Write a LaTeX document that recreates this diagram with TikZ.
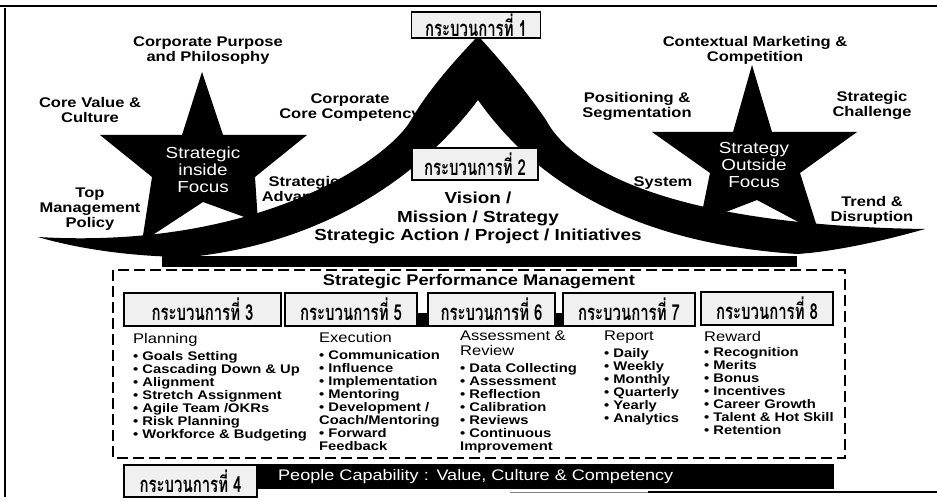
\documentclass[tikz,border=0pt]{standalone}
\usepackage{fontspec}
\setmainfont[FakeStretch=1.18]{Liberation Sans}
\newfontfamily\thaifont[Script=Thai,FakeStretch=0.68]{Loma}
\usepackage{tikz}

\newcommand\setsz[2]{\fontsize{#1}{#2}\selectfont}

\begin{document}
\begin{tikzpicture}[x=1pt,y=-1pt,
	lbl/.style={align=center,inner sep=0,font=\bfseries\setsz{14}{15}},
	startxt/.style={align=center,inner sep=0,text=white,font=\setsz{16}{17}},
	thaibox/.style={draw=black,line width=1.5,fill=black!6,inner sep=0,font=\thaifont\bfseries\setsz{22}{22}},
	head/.style={align=left,inner sep=0,anchor=north west,font=\setsz{14}{15}},
	items/.style={align=left,inner sep=0,anchor=north west,font=\bfseries\setsz{12.5}{13}}]
	\useasboundingbox (0,0) rectangle (937,502);

	\draw[line width=1.5] (0,6) -- (937,6);
	\draw[line width=1.5] (5,8) -- (5,497);
	\draw[line width=0.8,gray] (510,492) -- (648,492);
	\draw[line width=2.5] (648,492) -- (937,492);

	\node[lbl] (purpose) at (208,50.5) {Corporate Purpose\\and Philosophy};
	\node[lbl] (corevalue) at (90,109.5) {Core Value \&\\Culture};
	\node[lbl] (corecomp) at (350,107.5) {Corporate\\Core Competency};
	\node[lbl] (advantage) at (304,190) {Strategic\\Advantage};
	\node[lbl] (topmgmt) at (90,209.5) {Top\\Management\\Policy};
	\node[lbl] (marketing) at (755,50) {Contextual Marketing \&\\Competition};
	\node[lbl] (positioning) at (637,106) {Positioning \&\\Segmentation};
	\node[lbl] (challenge) at (872,105) {Strategic\\Challenge};
	\node[lbl] (system) at (663,183) {System};
	\node[lbl] (trend) at (872,210.5) {Trend \&\\Disruption};

	\fill (38,237) .. controls (258,250) and (388,160) .. (411,120)
		.. controls (430,87) and (460,55) .. (478,36)
		.. controls (496,55) and (524,88) .. (546,120)
		.. controls (566,158) and (645,225) .. (925,229)
		.. controls (880,242) and (830,252) .. (797,254)
		.. controls (615,242) and (526,168) .. (478,100)
		.. controls (424,172) and (330,242) .. (190,257)
		.. controls (130,257) and (75,248) .. (38,237) -- cycle;
	\fill (162,256) rectangle (797,267);

	\fill (202,72) -- (223,135) -- (307,135) -- (255,177) -- (258,222) -- (203,202)
		-- (142,242) -- (152,177) -- (100,135) -- (182,135) -- cycle;
	\fill (752,65) -- (772,132) -- (857,132) -- (800,173) -- (819,233) -- (757,200)
		-- (700,222) -- (710,173) -- (652,132) -- (733,132) -- cycle;

	\node[startxt] (inside) at (203,170) {Strategic\\inside\\Focus};
	\node[startxt] (outside) at (754,165) {Strategy\\Outside\\Focus};

	\node[thaibox,minimum width=129,minimum height=26] (p1) at (476,25) {กระบวนการที่ 1};
	\node[thaibox,minimum width=126,minimum height=32] (p2) at (475,164) {กระบวนการที่ 2};
	\node[align=center,inner sep=0,font=\bfseries\setsz{16}{18.5}] (vision) at (478,218)
		{Vision /\\Mission / Strategy\\Strategic Action / Project / Initiatives};

	\draw[line width=2.5,dash pattern=on 11pt off 5pt] (113,270) rectangle (845,458);
	\node[inner sep=0,font=\bfseries\setsz{15.5}{15.5}] (spm) at (479,282) {Strategic Performance Management};

	\node[thaibox,minimum width=157,minimum height=33] (p3) at (202.5,309.5) {กระบวนการที่ 3};
	\node[thaibox,minimum width=132,minimum height=33] (p5) at (351,309.5) {กระบวนการที่ 5};
	\node[thaibox,minimum width=127,minimum height=33] (p6) at (491.5,309.5) {กระบวนการที่ 6};
	\node[thaibox,minimum width=132,minimum height=33] (p7) at (629,309.5) {กระบวนการที่ 7};
	\node[thaibox,minimum width=132,minimum height=33] (p8) at (767,308.5) {กระบวนการที่ 8};
	\fill ([yshift=-4pt]p5.east) rectangle (p6.south west);
	\fill ([yshift=-4pt]p6.east) rectangle (p7.south west);

	\node[head] (planning) at (133,333) {Planning};
	\node[items] (planlist) at (133,351) {• Goals Setting\\• Cascading Down \& Up\\• Alignment\\• Stretch Assignment\\• Agile Team /OKRs\\• Risk Planning\\• Workforce \& Budgeting};
	\node[head] (execution) at (319,332) {Execution};
	\node[items] (execlist) at (319,350) {• Communication\\• Influence\\• Implementation\\• Mentoring\\• Development /\\Coach/Mentoring\\• Forward\\Feedback};
	\node[head] (assess) at (460,331) {Assessment \&\\Review};
	\node[items] (assesslist) at (460,363) {• Data Collecting\\• Assessment\\• Reflection\\• Calibration\\• Reviews\\• Continuous\\Improvement};
	\node[head] (report) at (604,331) {Report};
	\node[items] (reportlist) at (604,348) {• Daily\\• Weekly\\• Monthly\\• Quarterly\\• Yearly\\• Analytics};
	\node[head] (reward) at (704,331) {Reward};
	\node[items] (rewardlist) at (704,347) {• Recognition\\• Merits\\• Bonus\\• Incentives\\• Career Growth\\• Talent \& Hot Skill\\• Retention};

	\node[fill=black,text=white,anchor=west,inner sep=0,inner xsep=21,text width=535,minimum height=25,align=left,font=\setsz{15.3}{15.3}] (people) at (257,476.5) {People Capability : Value, Culture \& Competency};
	\node[thaibox,minimum width=133,minimum height=32] (p4) at (190.5,481) {กระบวนการที่ 4};
\end{tikzpicture}
\end{document}
